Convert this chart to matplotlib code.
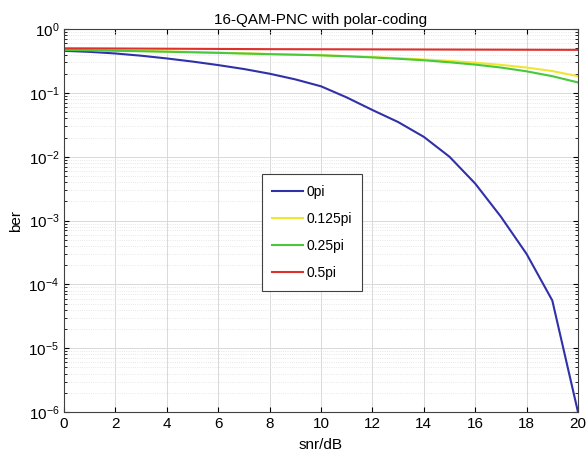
import matplotlib
matplotlib.use("Agg")
import matplotlib.pyplot as plt
import numpy as np

plt.rcParams['font.family'] = ['Liberation Sans', 'DejaVu Sans']

snr = list(range(0, 21))
ber_0pi = [0.457, 0.44, 0.415, 0.383, 0.347, 0.31, 0.273, 0.237, 0.20, 0.163, 0.127,
           0.085, 0.054, 0.035, 0.0205, 0.0100, 0.0038, 0.00115, 3.0e-4, 5.6e-5, 1.0e-6]
ber_0125pi = [0.475, 0.47, 0.463, 0.455, 0.447, 0.438, 0.428, 0.418, 0.408, 0.398, 0.39,
              0.378, 0.365, 0.35, 0.335, 0.318, 0.298, 0.275, 0.25, 0.22, 0.183]
ber_025pi = [0.47, 0.465, 0.458, 0.45, 0.442, 0.433, 0.424, 0.414, 0.405, 0.397, 0.388,
             0.375, 0.36, 0.343, 0.325, 0.302, 0.278, 0.25, 0.218, 0.183, 0.146]
ber_05pi = [0.50, 0.499, 0.497, 0.495, 0.493, 0.491, 0.489, 0.487, 0.485, 0.484, 0.483,
            0.482, 0.481, 0.48, 0.479, 0.478, 0.477, 0.476, 0.475, 0.474, 0.473]

series = [(ber_0pi, "#3030a8", "0pi"), (ber_0125pi, "#f0e632", "0.125pi"),
          (ber_025pi, "#48c83c", "0.25pi"), (ber_05pi, "#e0302c", "0.5pi")]

fig = plt.figure(figsize=(5.88, 4.62), dpi=100)
ax = fig.add_axes([0.109, 0.108, 0.874, 0.829])
for ys, col, lab in series:
    ax.semilogy(snr, ys, color=col, lw=1.5, label=lab)

ax.set_xlim(0, 20)
ax.set_ylim(1e-6, 1)
ax.set_xticks(range(0, 21, 2))
ax.grid(True, which="major", color="#d9d9d9", lw=0.7)
ax.grid(True, which="minor", color="#e0e0e0", lw=0.6, linestyle=":")
ax.xaxis.set_minor_locator(matplotlib.ticker.NullLocator())
ax.tick_params(which="both", direction="in", top=True, right=True, labelsize=11)
for s in ax.spines.values():
    s.set_color("#404040")
ax.set_xlabel("snr/dB", fontsize=11, labelpad=5)
ax.set_ylabel("ber", fontsize=11)
ax.set_title("16-QAM-PNC with polar-coding", fontsize=11, pad=4)
leg = ax.legend(loc="upper left", bbox_to_anchor=(0.385, 0.621), fontsize=10,
                fancybox=False, edgecolor="#404040", framealpha=1, handlelength=2.2,
                handletextpad=0.25, labelspacing=0.95, borderpad=0.75, borderaxespad=0)
leg.get_frame().set_linewidth(0.8)
fig.savefig("out.png", dpi=100)
